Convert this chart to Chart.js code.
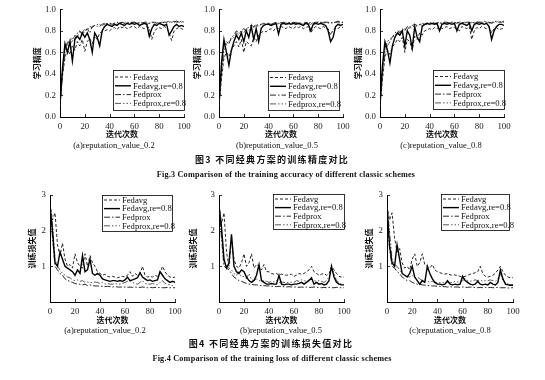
<!DOCTYPE html>
<html><head><meta charset="utf-8">
<script src="https://cdn.jsdelivr.net/npm/chart.js@4.4.1/dist/chart.umd.min.js"></script>
<style>
html,body{margin:0;padding:0;background:#fff;}
#wrap{position:relative;width:545px;height:380px;overflow:hidden;background:#fff;}
canvas{position:absolute;}
.cap{position:absolute;white-space:nowrap;transform:translateX(-50%);color:#111;line-height:1;filter:grayscale(100%);}
.sub{font-family:"Liberation Serif",serif;font-size:8.5px;}
.cn{font-family:"Noto Sans CJK SC",sans-serif;font-weight:bold;font-size:9px;letter-spacing:1.3px;}
.en{font-family:"Liberation Serif",serif;font-weight:bold;font-size:8.2px;letter-spacing:0.2px;}
</style></head>
<body><div id="wrap"></div>
<script>
// ---------------- data ----------------
const iters = [0,2,4,6,8,10,12,14,16,18,20,22,24,26,28,30,32,34,36,38,40,42,44,46,48,50,52,54,56,58,60,62,64,66,68,70,72,74,76,78,80,82,84,86,88,90,92,94,96,98,100];
const seriesNames = ["Fedavg","Fedavg,re=0.8","Fedprox","Fedprox,re=0.8"];
const accTicks = [0,0.2,0.4,0.6,0.8,1.0];
const lossTicks = [1,2,3];
const xTicks = [0,20,40,60,80,100];

// accuracy, reputation_value 0.2
const accA_fedavg   = [0.10,0.38,0.55,0.63,0.58,0.66,0.62,0.70,0.66,0.72, 0.61,0.70,0.73,0.68,0.75,0.72,0.78,0.79,0.80,0.81, 0.80,0.82,0.83,0.81,0.84,0.83,0.84,0.82,0.83,0.84, 0.84,0.82,0.84,0.83,0.82,0.84,0.83,0.72,0.79,0.82, 0.83,0.82,0.84,0.83,0.78,0.71,0.80,0.82,0.83,0.82, 0.81];
const accA_fedavgRe = [0.12,0.45,0.68,0.60,0.70,0.52,0.72,0.75,0.72,0.78, 0.74,0.78,0.72,0.60,0.78,0.74,0.66,0.80,0.84,0.86, 0.85,0.84,0.86,0.85,0.87,0.86,0.85,0.87,0.86,0.87, 0.86,0.87,0.85,0.86,0.87,0.86,0.75,0.82,0.86,0.85, 0.87,0.86,0.85,0.86,0.76,0.80,0.84,0.86,0.84,0.85, 0.84];
const accA_fedprox  = [0.10,0.42,0.64,0.70,0.66,0.74,0.72,0.78,0.80,0.76, 0.80,0.82,0.78,0.84,0.85,0.86,0.84,0.86,0.87,0.86, 0.87,0.86,0.87,0.88,0.87,0.88,0.87,0.88,0.87,0.88, 0.88,0.87,0.88,0.87,0.88,0.88,0.87,0.88,0.88,0.87, 0.88,0.87,0.88,0.88,0.89,0.88,0.88,0.89,0.88,0.88, 0.89];
const accA_fedproxRe= [0.10,0.40,0.60,0.68,0.72,0.70,0.76,0.74,0.80,0.78, 0.82,0.80,0.84,0.83,0.85,0.84,0.86,0.85,0.86,0.87, 0.86,0.87,0.87,0.86,0.87,0.88,0.87,0.87,0.88,0.87, 0.88,0.87,0.87,0.88,0.87,0.86,0.87,0.88,0.87,0.88, 0.87,0.88,0.88,0.87,0.88,0.88,0.89,0.88,0.88,0.89, 0.88];

// accuracy, reputation_value 0.5
const accB_fedavg   = [0.10,0.35,0.55,0.60,0.56,0.62,0.66,0.70,0.65,0.72, 0.60,0.70,0.68,0.66,0.74,0.70,0.76,0.78,0.80,0.79, 0.81,0.82,0.80,0.83,0.82,0.84,0.83,0.82,0.84,0.83, 0.82,0.84,0.83,0.84,0.82,0.83,0.84,0.78,0.82,0.84, 0.83,0.82,0.84,0.83,0.82,0.76,0.81,0.83,0.82,0.84, 0.83];
const accB_fedavgRe = [0.12,0.50,0.72,0.60,0.48,0.62,0.70,0.76,0.72,0.78, 0.70,0.80,0.74,0.84,0.72,0.82,0.70,0.82,0.85,0.86, 0.86,0.85,0.86,0.87,0.77,0.86,0.87,0.86,0.87,0.86, 0.87,0.86,0.87,0.86,0.85,0.87,0.86,0.80,0.86,0.87, 0.86,0.87,0.86,0.85,0.80,0.70,0.74,0.84,0.86,0.85, 0.86];
const accB_fedprox  = [0.10,0.44,0.66,0.70,0.68,0.74,0.76,0.80,0.78,0.80, 0.82,0.80,0.84,0.85,0.84,0.86,0.85,0.86,0.87,0.86, 0.87,0.86,0.87,0.88,0.87,0.87,0.88,0.87,0.88,0.87, 0.88,0.87,0.88,0.87,0.86,0.88,0.87,0.88,0.87,0.88, 0.88,0.88,0.87,0.88,0.88,0.87,0.88,0.88,0.89,0.88, 0.88];
const accB_fedproxRe= [0.10,0.40,0.62,0.68,0.70,0.72,0.74,0.78,0.76,0.80, 0.78,0.82,0.80,0.84,0.83,0.85,0.84,0.86,0.85,0.86, 0.87,0.86,0.86,0.87,0.86,0.88,0.87,0.87,0.86,0.87, 0.87,0.88,0.86,0.87,0.87,0.88,0.87,0.86,0.88,0.87, 0.88,0.87,0.88,0.88,0.87,0.88,0.87,0.88,0.88,0.87, 0.88];

// accuracy, reputation_value 0.8
const accC_fedavg   = [0.10,0.35,0.56,0.62,0.58,0.65,0.68,0.72,0.70,0.74, 0.60,0.72,0.70,0.62,0.75,0.72,0.78,0.76,0.80,0.81, 0.82,0.81,0.83,0.82,0.84,0.82,0.83,0.84,0.82,0.83, 0.83,0.82,0.80,0.84,0.83,0.82,0.84,0.72,0.80,0.83, 0.82,0.84,0.83,0.82,0.84,0.78,0.82,0.83,0.81,0.82, 0.82];
const accC_fedavgRe = [0.12,0.48,0.70,0.62,0.50,0.66,0.74,0.78,0.76,0.80, 0.66,0.80,0.76,0.64,0.84,0.74,0.70,0.84,0.86,0.87, 0.86,0.87,0.86,0.87,0.80,0.86,0.87,0.86,0.87,0.86, 0.87,0.80,0.86,0.87,0.86,0.85,0.87,0.80,0.86,0.87, 0.86,0.87,0.86,0.87,0.84,0.72,0.80,0.84,0.86,0.86, 0.85];
const accC_fedprox  = [0.10,0.44,0.64,0.70,0.72,0.74,0.78,0.80,0.78,0.82, 0.80,0.84,0.82,0.85,0.86,0.85,0.86,0.87,0.86,0.87, 0.87,0.88,0.87,0.87,0.88,0.87,0.88,0.88,0.87,0.88, 0.88,0.87,0.88,0.88,0.87,0.88,0.88,0.87,0.88,0.88, 0.88,0.88,0.89,0.88,0.88,0.87,0.88,0.89,0.88,0.88, 0.89];
const accC_fedproxRe= [0.10,0.40,0.60,0.66,0.70,0.74,0.76,0.78,0.80,0.79, 0.82,0.81,0.84,0.83,0.85,0.84,0.86,0.85,0.86,0.86, 0.87,0.86,0.87,0.86,0.87,0.87,0.88,0.87,0.87,0.88, 0.87,0.88,0.87,0.87,0.88,0.87,0.88,0.88,0.87,0.88, 0.88,0.87,0.88,0.88,0.87,0.88,0.88,0.88,0.89,0.88, 0.88];

// loss, reputation_value 0.2
const lossA_fedavg   = [2.75,2.30,2.50,1.60,1.30,1.65,1.20,1.00,1.05,0.95, 1.35,1.10,1.00,0.95,1.35,1.00,1.30,1.10,1.00,0.85, 0.80,0.75,0.78,0.72,0.70,0.72,0.70,0.68,0.70,0.72, 0.70,0.75,0.85,0.72,0.80,0.75,0.78,1.00,0.75,0.70, 0.72,0.70,0.75,0.72,0.80,1.00,0.85,0.75,0.70,0.68, 0.70];
const lossA_fedavgRe = [2.70,2.00,1.10,1.00,1.40,1.20,1.00,0.95,0.90,0.85, 0.75,0.90,0.80,1.30,0.85,0.90,1.20,0.80,0.75,0.80, 0.75,0.65,0.62,0.60,0.58,0.60,0.60,0.58,0.60,0.58, 0.62,0.70,0.60,0.62,0.65,0.68,0.82,0.70,0.65,0.60, 0.62,0.58,0.60,0.62,0.85,0.75,0.65,0.60,0.55,0.58, 0.55];
const lossA_fedprox  = [2.60,1.80,1.00,0.90,0.80,0.75,0.65,0.60,0.58,0.55, 0.52,0.50,0.50,0.48,0.50,0.46,0.48,0.46,0.45,0.45, 0.44,0.44,0.43,0.44,0.43,0.42,0.43,0.42,0.42,0.42, 0.42,0.41,0.42,0.41,0.42,0.41,0.41,0.42,0.41,0.40, 0.41,0.40,0.41,0.40,0.41,0.40,0.40,0.41,0.40,0.40, 0.40];
const lossA_fedproxRe= [2.70,2.20,1.20,1.00,0.90,0.80,0.75,0.70,0.68,0.62, 0.60,0.62,0.58,0.60,0.55,0.56,0.55,0.54,0.56,0.55, 0.52,0.55,0.50,0.52,0.50,0.50,0.52,0.50,0.50,0.52, 0.55,0.58,0.60,0.55,0.52,0.50,0.55,0.60,0.52,0.50, 0.50,0.52,0.50,0.48,0.55,0.60,0.52,0.50,0.48,0.46, 0.45];

// loss, reputation_value 0.5
const lossB_fedavg   = [2.70,2.20,2.50,1.40,1.00,1.80,1.20,1.00,0.95,1.10, 1.35,1.00,1.10,1.35,0.95,1.05,1.00,0.90,1.05,0.85, 0.85,0.80,0.78,0.80,0.75,0.78,0.76,0.75,0.76,0.78, 0.72,0.75,0.80,0.78,0.80,0.85,0.90,1.00,0.85,0.80, 0.75,0.78,0.80,0.75,0.78,1.00,0.90,0.80,0.72,0.70, 0.70];
const lossB_fedavgRe = [2.70,2.10,1.20,0.95,1.10,1.90,1.00,0.85,0.80,0.90, 0.85,0.70,0.60,0.55,0.60,0.75,1.05,0.60,0.55,0.50, 0.50,0.52,0.50,0.50,0.75,0.50,0.48,0.50,0.50,0.48, 0.50,0.50,0.52,0.55,0.50,0.55,0.60,0.68,0.50,0.55, 0.50,0.52,0.48,0.50,0.60,1.00,0.70,0.55,0.50,0.48, 0.48];
const lossB_fedprox  = [2.60,1.80,1.00,0.95,0.90,0.80,0.70,0.65,0.60,0.58, 0.55,0.52,0.50,0.50,0.48,0.48,0.47,0.46,0.46,0.45, 0.45,0.44,0.44,0.43,0.44,0.43,0.43,0.42,0.43,0.42, 0.42,0.42,0.41,0.42,0.41,0.42,0.41,0.41,0.42,0.41, 0.41,0.40,0.41,0.40,0.41,0.40,0.40,0.41,0.40,0.40, 0.40];
const lossB_fedproxRe= [2.70,2.00,1.10,1.00,0.95,0.90,0.80,0.75,0.85,0.70, 0.72,0.65,0.80,0.62,0.60,0.65,0.60,0.58,0.60,0.58, 0.55,0.58,0.56,0.60,0.55,0.56,0.55,0.54,0.56,0.55, 0.55,0.60,0.58,0.62,0.60,0.58,0.62,0.65,0.60,0.58, 0.60,0.58,0.55,0.60,0.70,0.95,0.80,0.60,0.55,0.50, 0.48];

// loss, reputation_value 0.8
const lossC_fedavg   = [2.70,2.30,2.50,1.80,1.40,1.50,1.10,0.95,1.00,0.90, 1.20,1.35,1.00,1.10,1.35,1.05,1.00,0.95,1.05,0.90, 0.85,0.82,0.80,0.78,0.80,0.76,0.75,0.76,0.74,0.72, 0.70,0.72,0.75,0.78,0.80,0.82,0.85,1.00,0.80,0.72, 0.70,0.72,0.75,0.80,0.90,1.00,0.85,0.75,0.70,0.68, 0.68];
const lossC_fedavgRe = [2.70,1.60,1.10,1.00,1.60,1.20,0.80,0.75,0.70,0.80, 1.00,0.70,0.60,0.50,0.60,0.55,1.00,0.80,0.65,0.55, 0.50,0.50,0.48,0.50,0.60,0.50,0.48,0.50,0.48,0.50, 0.72,0.60,0.55,0.50,0.48,0.50,0.58,0.50,0.48,0.50, 0.48,0.55,0.50,0.48,0.55,0.90,0.65,0.50,0.48,0.47, 0.47];
const lossC_fedprox  = [2.60,1.50,1.00,0.95,0.85,0.80,0.70,0.65,0.60,0.60, 0.55,0.52,0.50,0.50,0.48,0.47,0.46,0.46,0.45,0.45, 0.44,0.44,0.43,0.43,0.42,0.43,0.42,0.42,0.42,0.41, 0.42,0.41,0.41,0.42,0.41,0.41,0.40,0.41,0.40,0.41, 0.40,0.41,0.40,0.40,0.41,0.40,0.40,0.40,0.39,0.40, 0.40];
const lossC_fedproxRe= [2.70,2.00,1.20,1.05,1.00,0.90,0.80,0.75,0.72,0.70, 0.75,0.68,0.70,0.65,0.60,0.62,0.58,0.56,0.58,0.55, 0.55,0.54,0.55,0.53,0.55,0.54,0.55,0.58,0.56,0.55, 0.60,0.65,0.60,0.58,0.60,0.62,0.60,0.62,0.58,0.60, 0.60,0.62,0.60,0.58,0.65,0.80,0.60,0.55,0.50,0.48, 0.48];

// ---------------- styles ----------------
const styles = [
  {borderColor:'#111', borderWidth:0.9, borderDash:[3,2]},
  {borderColor:'#000', borderWidth:1.4, borderDash:[]},
  {borderColor:'#111', borderWidth:0.9, borderDash:[6,2,1.5,2]},
  {borderColor:'#444', borderWidth:0.9, borderDash:[6,2,1.5,2,1.5,2]}
];

const boxLegend = {
  id:'boxLegend',
  afterDatasetsDraw(chart, args, o){
    if(!o || !o.box) return;
    const ctx = chart.ctx;
    const x = o.box[0]-o.origin[0], y = o.box[1]-o.origin[1], w = o.box[2], h = o.box[3];
    ctx.save();
    ctx.fillStyle='#fff'; ctx.fillRect(x,y,w,h);
    ctx.setLineDash([]); ctx.strokeStyle='#000'; ctx.lineWidth=0.8;
    ctx.strokeRect(x+0.5,y+0.5,w,h);
    ctx.font = '8.6px "Liberation Serif", serif';
    ctx.textBaseline='middle'; ctx.fillStyle='#111';
    chart.data.datasets.forEach((ds,i)=>{
      const yy = y + o.rowTop + i*o.rowGap;
      ctx.beginPath();
      ctx.setLineDash(ds.borderDash||[]);
      ctx.lineWidth = ds.borderWidth; ctx.strokeStyle = ds.borderColor;
      ctx.moveTo(x+2, yy); ctx.lineTo(x+2+o.sample, yy); ctx.stroke();
      ctx.setLineDash([]);
      ctx.fillText(ds.label, x+4+o.sample, yy+0.5);
    });
    ctx.restore();
  }
};

// inward tick marks on both axes
const inTicks = {
  id:'inTicks',
  afterDraw(chart){
    const {ctx, chartArea:a, scales:{x, y}} = chart;
    ctx.save(); ctx.strokeStyle='#000'; ctx.lineWidth=0.8; ctx.beginPath();
    x.ticks.forEach(t=>{const p=Math.round(x.getPixelForValue(t.value))+0.5; ctx.moveTo(p,a.bottom); ctx.lineTo(p,a.bottom-3);});
    y.ticks.forEach(t=>{const p=Math.round(y.getPixelForValue(t.value))+0.5; ctx.moveTo(a.left,p); ctx.lineTo(a.left+3,p);});
    ctx.stroke(); ctx.restore();
  }
};

const wrap = document.getElementById('wrap');
function addCap(text, cls, cx, cy){
  const d = document.createElement('div');
  d.className = 'cap '+cls; d.textContent = text;
  d.style.left = cx+'px'; d.style.top = cy+'px';
  wrap.appendChild(d);
}

const TITLE_SIZE = 8;
const HALF_LH = TITLE_SIZE*1.2/2;

function makeChart(cfg){
  const cx = Math.round(cfg.yTitleX - HALF_LH), cy = cfg.top;
  const cRight = cfg.area.r + 14;
  const cBottom = Math.round(cfg.xTitleY + HALF_LH);
  const W = cRight - cx, H = cBottom - cy;
  const cv = document.createElement('canvas');
  cv.width = W; cv.height = H;
  cv.style.left = cx+'px'; cv.style.top = cy+'px';
  cv.style.width = W+'px'; cv.style.height = H+'px';
  wrap.appendChild(cv);
  const isAcc = cfg.kind==='acc';
  const datasets = cfg.series.map((vals,i)=>Object.assign({
    label: seriesNames[i],
    data: iters.map((x,j)=>({x:x, y:vals[j]})),
    pointRadius:0, tension:0, fill:false
  }, styles[i]));
  const tickFont = {family:'"Liberation Serif", serif', size:8.8};
  const titleFont = {family:'"Noto Sans CJK SC", sans-serif', size:TITLE_SIZE, weight:'bold'};
  new Chart(cv, {
    type:'line',
    data:{datasets},
    options:{
      responsive:false, animation:false, devicePixelRatio:1,
      layout:{padding:{left:0, top:cfg.area.t-cy, right:cRight-cfg.area.r, bottom:0}},
      plugins:{legend:{display:false}, tooltip:{enabled:false},
        boxLegend:{box:cfg.legendBox, origin:[cx,cy], rowTop:cfg.rowTop, rowGap:cfg.rowGap, sample:16}},
      scales:{
        x:{type:'linear', min:0, max:100,
          afterFit:s=>{s.height = cBottom - cfg.area.b;},
          afterBuildTicks:s=>{s.ticks = xTicks.map(v=>({value:v}));},
          ticks:{font:tickFont, color:'#222', padding:4, maxRotation:0, autoSkip:false},
          grid:{display:true, drawOnChartArea:false, drawTicks:false},
          border:{display:true, color:'#000', width:1},
          title:{display:true, text:'迭代次数', font:titleFont, color:'#111', padding:{top:0,bottom:0}}
        },
        y:{type:'linear', min:0, max: isAcc?1:3,
          afterFit:s=>{s.width = cfg.area.l - cx;},
          afterBuildTicks:s=>{s.ticks = (isAcc?accTicks:lossTicks).map(v=>({value:v}));},
          ticks:{font:tickFont, color:'#222', padding:4, autoSkip:false,
            callback:v=> isAcc ? Number(v).toFixed(1) : String(v)},
          grid:{display:true, drawOnChartArea:false, drawTicks:false},
          border:{display:true, color:'#000', width:1},
          title:{display:true, text: isAcc?'学习精度':'训练损失值', font:titleFont, color:'#111', padding:{top:0,bottom:0}}
        }
      }
    },
    plugins:[inTicks, boxLegend]
  });
}

const accRow = {top:0, xTitleY:134, t:9, b:117};
makeChart({kind:'acc', yTitleX:37, xTitleY:accRow.xTitleY, top:accRow.top, area:{l:60,t:accRow.t,r:184,b:accRow.b},
  series:[accA_fedavg,accA_fedavgRe,accA_fedprox,accA_fedproxRe], legendBox:[113,70,71,40], rowTop:7, rowGap:8.8});
makeChart({kind:'acc', yTitleX:197, xTitleY:accRow.xTitleY, top:accRow.top, area:{l:219,t:accRow.t,r:343,b:accRow.b},
  series:[accB_fedavg,accB_fedavgRe,accB_fedprox,accB_fedproxRe], legendBox:[268,71,71,39], rowTop:6.5, rowGap:8.8});
makeChart({kind:'acc', yTitleX:358, xTitleY:accRow.xTitleY, top:accRow.top, area:{l:380,t:accRow.t,r:504,b:accRow.b},
  series:[accC_fedavg,accC_fedavgRe,accC_fedprox,accC_fedproxRe], legendBox:[433,70,71,39], rowTop:6.5, rowGap:8.8});

const lossRow = {top:185, xTitleY:320, t:195, b:302};
makeChart({kind:'loss', yTitleX:32, xTitleY:lossRow.xTitleY, top:lossRow.top, area:{l:50,t:lossRow.t,r:175,b:lossRow.b},
  series:[lossA_fedavg,lossA_fedavgRe,lossA_fedprox,lossA_fedproxRe], legendBox:[102,195,70,36], rowTop:5, rowGap:8.6});
makeChart({kind:'loss', yTitleX:193, xTitleY:lossRow.xTitleY, top:lossRow.top, area:{l:219,t:lossRow.t,r:344,b:lossRow.b},
  series:[lossB_fedavg,lossB_fedavgRe,lossB_fedprox,lossB_fedproxRe], legendBox:[273,194,71,35], rowTop:5, rowGap:8.6});
makeChart({kind:'loss', yTitleX:369, xTitleY:lossRow.xTitleY, top:lossRow.top, area:{l:387,t:lossRow.t,r:513,b:lossRow.b},
  series:[lossC_fedavg,lossC_fedavgRe,lossC_fedprox,lossC_fedproxRe], legendBox:[441,194,68,36], rowTop:5, rowGap:8.6});

// captions
addCap('(a)reputation_value_0.2','sub',114,141);
addCap('(b)reputation_value_0.5','sub',277,141);
addCap('(c)reputation_value_0.8','sub',441,141);
addCap('图3  不同经典方案的训练精度对比','cn',272,155);
addCap('Fig.3    Comparison of the training accuracy of different classic schemes','en',286,171);
addCap('(a)reputation_value_0.2','sub',105,326);
addCap('(b)reputation_value_0.5','sub',281,326);
addCap('(c)reputation_value_0.8','sub',450,326);
addCap('图4  不同经典方案的训练损失值对比','cn',271,339);
addCap('Fig.4    Comparison of the training loss of different classic schemes','en',272,355);
</script>
</body></html>
